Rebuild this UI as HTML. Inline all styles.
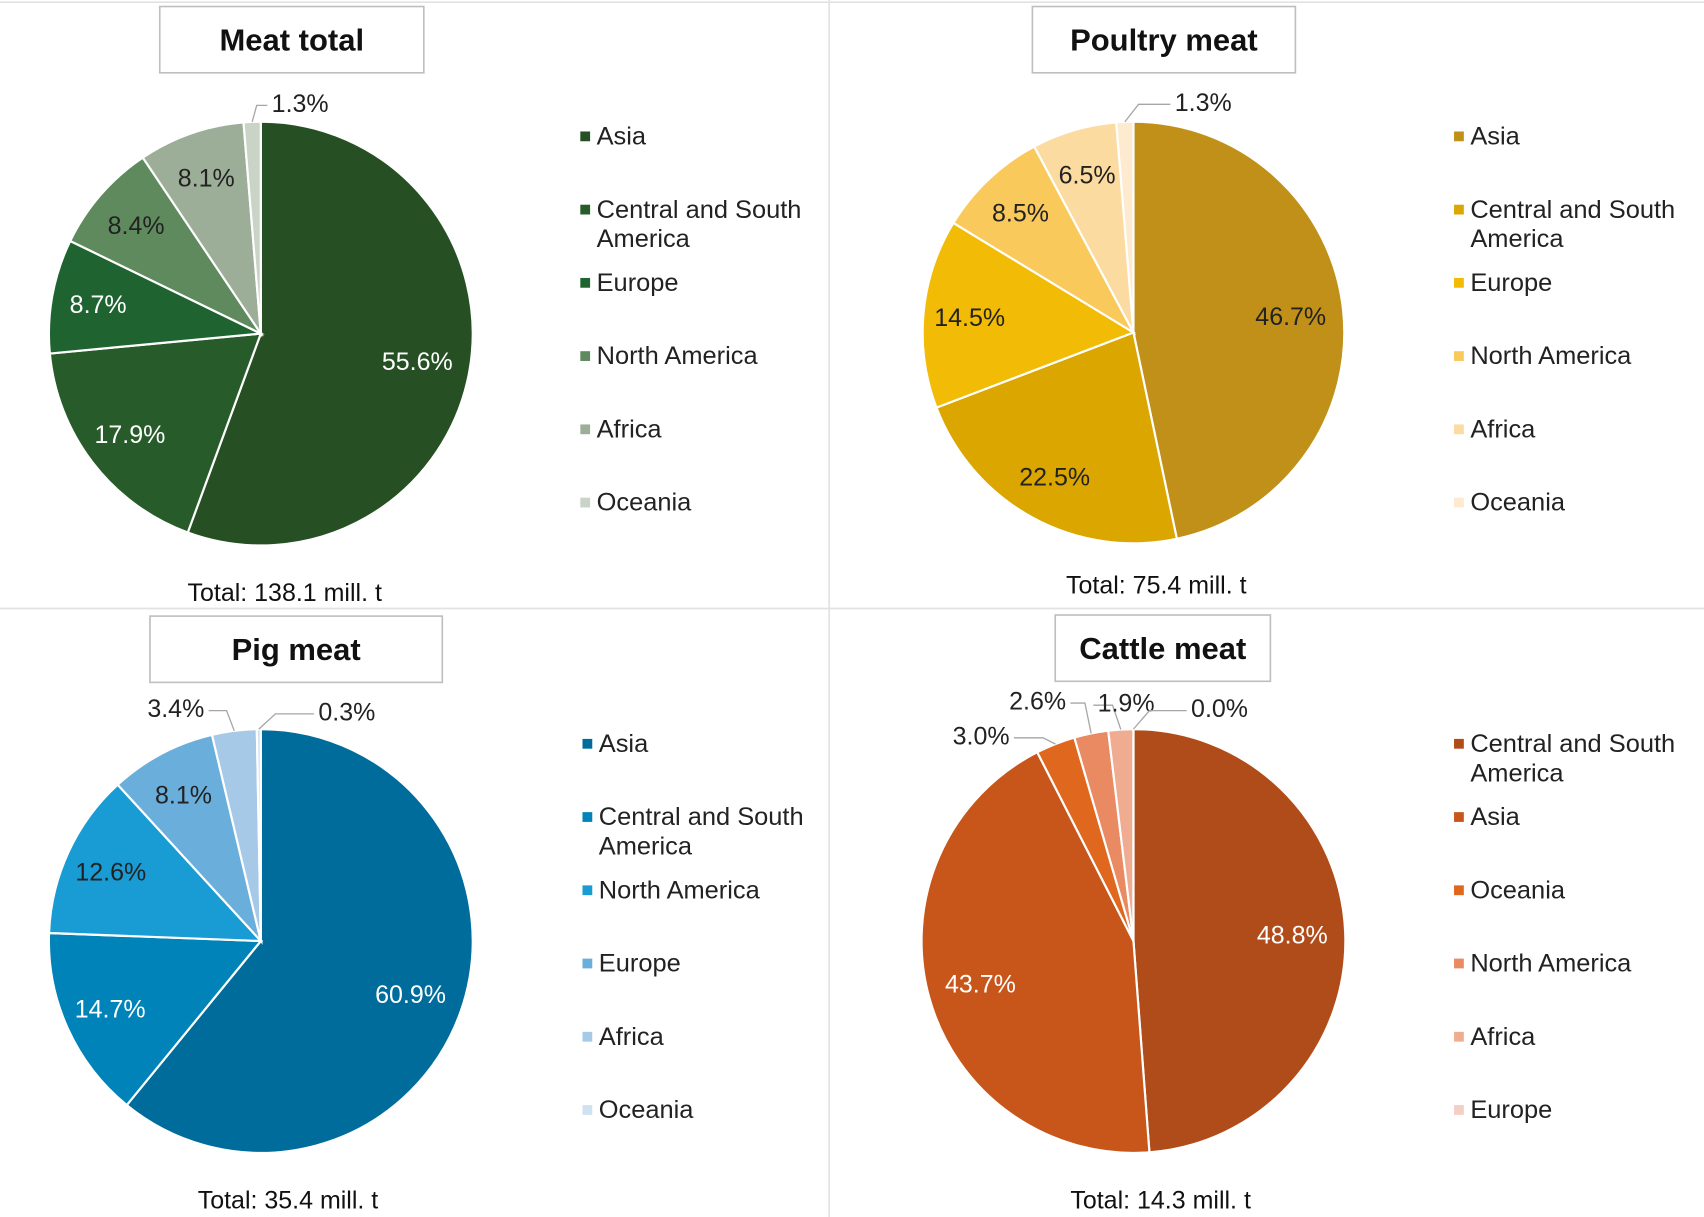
<!DOCTYPE html>
<html><head><meta charset="utf-8">
<style>
html,body{margin:0;padding:0;background:#fff;width:1704px;height:1217px;overflow:hidden}
#wrap{width:1568px;height:1120px;transform:scale(1.08673,1.08661);transform-origin:0 0;position:relative}
svg text{font-family:"Liberation Sans",sans-serif}
</style></head><body>
<div id="wrap">
<svg id="svg" width="1568" height="1120" viewBox="0 0 1568 1120">
<line x1="0" y1="2" x2="1568" y2="2" stroke="#e2e2e2" stroke-width="1.5"/>
<line x1="763" y1="0" x2="763" y2="1120" stroke="#e2e2e2" stroke-width="1.5"/>
<line x1="0" y1="560" x2="1568" y2="560" stroke="#e2e2e2" stroke-width="1.5"/>
</svg>
</div>
<script>
const meatCats=["Asia","Central and South America","Europe","North America","Africa","Oceania"];
const meatVals=[55.6,17.9,8.7,8.4,8.1,1.3];
const poultryCats=["Asia","Central and South America","Europe","North America","Africa","Oceania"];
const poultryVals=[46.7,22.5,14.5,8.5,6.5,1.3];
const pigCats=["Asia","Central and South America","North America","Europe","Africa","Oceania"];
const pigVals=[60.9,14.7,12.6,8.1,3.4,0.3];
const cattleCats=["Central and South America","Asia","Oceania","North America","Africa","Europe"];
const cattleVals=[48.8,43.7,3.0,2.6,1.9,0.0];
const totals=["Total: 138.1 mill. t","Total: 75.4 mill. t","Total: 35.4 mill. t","Total: 14.3 mill. t"];
const titles=["Meat total","Poultry meat","Pig meat","Cattle meat"];

const NS="http://www.w3.org/2000/svg";
const svg=document.getElementById('svg');
function mk(tag,attrs,parent){const e=document.createElementNS(NS,tag);for(const k in attrs)e.setAttribute(k,attrs[k]);(parent||svg).appendChild(e);return e;}
function txt(x,y,s,attrs,parent){const t=mk('text',Object.assign({x:x,y:y},attrs),parent);t.textContent=s;return t;}

const charts=[
 {cats:meatCats,vals:meatVals,cx:240,cy:307,r:195,colors:["#264f23","#275c2a","#1f6430","#5f8a5e","#9dae98","#c9d3c6"],white:[1,1,1,0,0,0],
  title:{x:147,y:6,w:243,h:61},total:{x:262,y:553},legend:{x:537,y:125},
  outside:{5:[250,103,"start"]}},
 {cats:poultryCats,vals:poultryVals,cx:1043,cy:306,r:194,colors:["#c09018","#dba600","#f2bb05","#f9c95b","#fcdba0","#fdeacf"],white:[0,0,0,0,0,0],
  title:{x:950,y:6,w:242,h:61},total:{x:1064,y:546},legend:{x:1341,y:125},
  outside:{5:[1081,102,"start"]}},
 {cats:pigCats,vals:pigVals,cx:240,cy:866,r:195,colors:["#006c9b","#0083b8","#199bd3","#6aaedc","#a7c9e8","#d0e2f2"],white:[1,1,0,0,0,0],
  title:{x:138,y:567,w:269,h:61},total:{x:265,y:1112},legend:{x:539,y:684},
  outside:{4:[188,660,"end"],5:[293,663,"start"]}},
 {cats:cattleCats,vals:cattleVals,cx:1043,cy:866,r:195,colors:["#b04c19","#c8561a","#e0671e","#ea8a62","#efac90","#f4cfc5"],white:[1,1,0,0,0,0],
  title:{x:971,y:566,w:198,h:61},total:{x:1068,y:1112},legend:{x:1341,y:684},
  outside:{2:[929,685,"end"],3:[981,653,"end"],4:[1010,655,"start"],5:[1096,660,"start"]}}
];

charts.forEach((c,ci)=>{
  const g=mk('g',{});
  
  
  const sum=c.vals.reduce((a,b)=>a+b,0);
  let a0=-Math.PI/2;
  c.vals.forEach((v,i)=>{
    const a1=a0+v/sum*2*Math.PI;
    const x0=c.cx+c.r*Math.cos(a0),y0=c.cy+c.r*Math.sin(a0);
    const x1=c.cx+c.r*Math.cos(a1),y1=c.cy+c.r*Math.sin(a1);
    const large=(a1-a0)>Math.PI?1:0;
    const p=mk('path',{d:`M${c.cx},${c.cy} L${x0},${y0} A${c.r},${c.r} 0 ${large} 1 ${x1},${y1} Z`,fill:c.colors[i],stroke:"#fff","stroke-width":2},g);
    
    
    const am=(a0+a1)/2;
    const lab=v.toFixed(1)+'%';
    if(c.outside[i]){
      const o=c.outside[i];
      const ex=c.cx+c.r*Math.cos(am),ey=c.cy+c.r*Math.sin(am);
      const lx=o[2]=="start"?o[0]-4:o[0]+4;
      mk('polyline',{points:`${ex},${ey} ${ex+(lx-ex)*0.3},${o[1]-6} ${lx},${o[1]-6}`,fill:"none",stroke:"#a6a6a6","stroke-width":1.2},g);
      const t=txt(o[0],o[1],lab,{"font-size":23,fill:"#222","text-anchor":o[2]},g);
      
      
    } else {
      const f=v>40?0.75:0.78;
      const lx=c.cx+c.r*f*Math.cos(am),ly=c.cy+c.r*f*Math.sin(am);
      const t=txt(lx,ly+8,lab,{"font-size":23,fill:c.white[i]?"#fff":"#222","text-anchor":"middle"},g);
      
      
    }
    a0=a1;
  });
  const tb=mk('rect',{x:c.title.x,y:c.title.y,width:c.title.w,height:c.title.h,fill:"#fff",stroke:"#bfbfbf","stroke-width":1.5},g);
  
  
  const tt=txt(c.title.x+c.title.w/2,c.title.y+c.title.h/2+10,titles[ci],{"font-size":28.5,"font-weight":"bold",fill:"#111","text-anchor":"middle"},g);
  
  
  const tot=txt(c.total.x,c.total.y,totals[ci],{"font-size":23,fill:"#111","text-anchor":"middle"},g);
  
  
  c.cats.forEach((name,i)=>{
    const y=c.legend.y+i*67.4;
    const lg=mk('g',{},g);
    
    
    mk('rect',{x:c.legend.x-3,y:y-4,width:9,height:9,fill:c.colors[i]},lg);
    if(name=="Central and South America"){
      txt(c.legend.x+12,y+8,"Central and South",{"font-size":23.4,fill:"#222"},lg);
      txt(c.legend.x+12,y+35,"America",{"font-size":23.4,fill:"#222"},lg);
    } else txt(c.legend.x+12,y+8,name,{"font-size":23.4,fill:"#222"},lg);
  });
});
</script>
</body></html>
